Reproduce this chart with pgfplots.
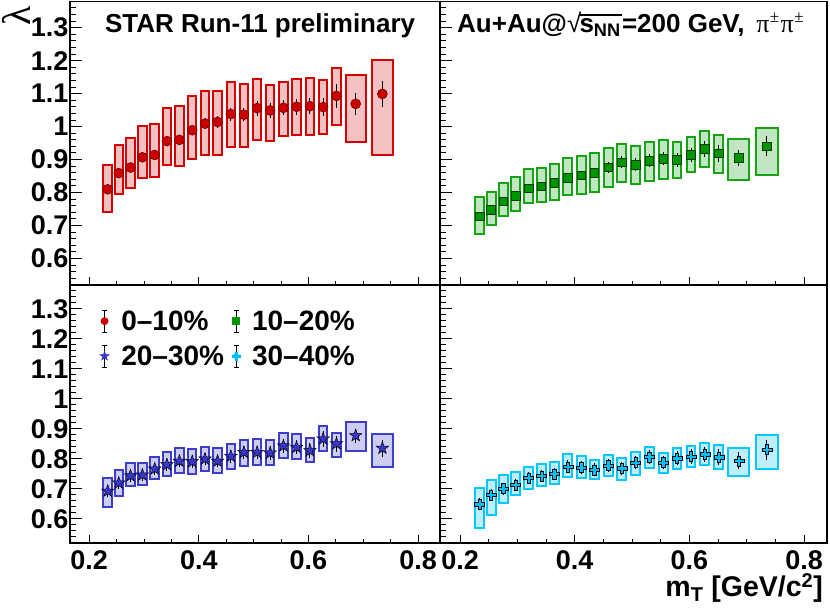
\documentclass[border=0pt]{standalone}
\usepackage{fontspec}
\setmainfont{Liberation Sans}
\newfontfamily\greekfont{Liberation Serif}
\usepackage{pgfplots}
\usepackage{pgfplotstable}
\pgfplotsset{compat=1.18}

\newsavebox\snnbox
\newcommand\sqrtsnn{\sbox\snnbox{s\textsubscript{NN}\kern0.05em}{\mdseries√}\kern-0.07em\rlap{\rule[0.66em]{\wd\snnbox}{0.055em}}\usebox\snnbox}
\newcommand\pipm{π\kern0.5bp\raisebox{0.42em}{\fontsize{17bp}{17bp}\selectfont ±}}

\definecolor{rline}{RGB}{215,0,0}
\definecolor{rfill}{RGB}{242,194,194}
\definecolor{rmark}{RGB}{204,0,0}
\definecolor{gline}{RGB}{20,165,20}
\definecolor{gfill}{RGB}{194,230,194}
\definecolor{gmark}{RGB}{0,150,0}
\definecolor{bline}{RGB}{60,60,205}
\definecolor{bfill}{RGB}{205,205,240}
\definecolor{bmark}{RGB}{55,55,205}
\definecolor{cline}{RGB}{0,200,255}
\definecolor{cfill}{RGB}{190,238,252}
\definecolor{cmark}{RGB}{0,190,250}

\pgfdeclareplotmark{fstar}{%
  \pgfpathmoveto{\pgfpointpolar{90}{\pgfplotmarksize}}%
  \pgfpathlineto{\pgfpointpolar{126}{0.4\pgfplotmarksize}}%
  \pgfpathlineto{\pgfpointpolar{162}{\pgfplotmarksize}}%
  \pgfpathlineto{\pgfpointpolar{198}{0.4\pgfplotmarksize}}%
  \pgfpathlineto{\pgfpointpolar{234}{\pgfplotmarksize}}%
  \pgfpathlineto{\pgfpointpolar{270}{0.4\pgfplotmarksize}}%
  \pgfpathlineto{\pgfpointpolar{306}{\pgfplotmarksize}}%
  \pgfpathlineto{\pgfpointpolar{342}{0.4\pgfplotmarksize}}%
  \pgfpathlineto{\pgfpointpolar{18}{\pgfplotmarksize}}%
  \pgfpathlineto{\pgfpointpolar{54}{0.4\pgfplotmarksize}}%
  \pgfpathclose
  \pgfusepathqfillstroke
}
\pgfdeclareplotmark{fcross}{%
  \pgfpathmoveto{\pgfpoint{-0.33\pgfplotmarksize}{\pgfplotmarksize}}%
  \pgfpathlineto{\pgfpoint{0.33\pgfplotmarksize}{\pgfplotmarksize}}%
  \pgfpathlineto{\pgfpoint{0.33\pgfplotmarksize}{0.33\pgfplotmarksize}}%
  \pgfpathlineto{\pgfpoint{\pgfplotmarksize}{0.33\pgfplotmarksize}}%
  \pgfpathlineto{\pgfpoint{\pgfplotmarksize}{-0.33\pgfplotmarksize}}%
  \pgfpathlineto{\pgfpoint{0.33\pgfplotmarksize}{-0.33\pgfplotmarksize}}%
  \pgfpathlineto{\pgfpoint{0.33\pgfplotmarksize}{-\pgfplotmarksize}}%
  \pgfpathlineto{\pgfpoint{-0.33\pgfplotmarksize}{-\pgfplotmarksize}}%
  \pgfpathlineto{\pgfpoint{-0.33\pgfplotmarksize}{-0.33\pgfplotmarksize}}%
  \pgfpathlineto{\pgfpoint{-\pgfplotmarksize}{-0.33\pgfplotmarksize}}%
  \pgfpathlineto{\pgfpoint{-\pgfplotmarksize}{0.33\pgfplotmarksize}}%
  \pgfpathlineto{\pgfpoint{-0.33\pgfplotmarksize}{0.33\pgfplotmarksize}}%
  \pgfpathclose
  \pgfusepathqfillstroke
}

% columns: x, y, stat error, syst low, syst high, box half width
\pgfplotstableread{
x y ey yl yh hw
0.2338 0.810 0.006 0.742 0.884 0.0078
0.2540 0.859 0.006 0.795 0.945 0.0078
0.2754 0.876 0.006 0.815 0.966 0.0078
0.2970 0.907 0.007 0.844 1.001 0.0078
0.3196 0.914 0.007 0.848 1.008 0.0078
0.3419 0.956 0.007 0.884 1.057 0.0078
0.3645 0.960 0.008 0.882 1.063 0.0078
0.3879 0.989 0.008 0.901 1.092 0.0078
0.4113 1.009 0.009 0.913 1.108 0.0078
0.4342 1.014 0.010 0.915 1.108 0.0078
0.4585 1.038 0.012 0.939 1.134 0.0078
0.4823 1.036 0.012 0.937 1.130 0.0078
0.5063 1.056 0.015 0.958 1.145 0.0078
0.5301 1.049 0.015 0.957 1.127 0.0078
0.5544 1.057 0.015 0.971 1.135 0.0078
0.5784 1.060 0.016 0.975 1.143 0.0078
0.6028 1.062 0.017 0.976 1.147 0.0078
0.6268 1.059 0.019 0.978 1.142 0.0078
0.6512 1.093 0.030 1.004 1.177 0.0078
0.6862 1.069 0.025 0.954 1.155 0.0185
0.7349 1.099 0.032 0.915 1.202 0.0192
}\redtab
\pgfplotstableread{
x y ey yl yh hw
0.2338 0.728 0.005 0.675 0.786 0.0078
0.2540 0.748 0.005 0.702 0.801 0.0078
0.2754 0.774 0.005 0.728 0.828 0.0078
0.2970 0.790 0.005 0.745 0.846 0.0078
0.3196 0.813 0.005 0.767 0.872 0.0078
0.3419 0.819 0.005 0.770 0.876 0.0078
0.3645 0.829 0.006 0.778 0.887 0.0078
0.3879 0.845 0.006 0.792 0.904 0.0078
0.4113 0.852 0.007 0.797 0.911 0.0078
0.4342 0.860 0.007 0.801 0.920 0.0078
0.4585 0.877 0.009 0.816 0.935 0.0078
0.4823 0.892 0.010 0.831 0.948 0.0078
0.5063 0.885 0.012 0.826 0.941 0.0078
0.5301 0.897 0.012 0.836 0.954 0.0078
0.5544 0.902 0.012 0.841 0.960 0.0078
0.5784 0.899 0.014 0.843 0.954 0.0078
0.6028 0.914 0.015 0.862 0.969 0.0078
0.6268 0.932 0.018 0.877 0.988 0.0078
0.6512 0.919 0.018 0.859 0.975 0.0078
0.6862 0.905 0.016 0.839 0.961 0.0185
0.7349 0.941 0.023 0.854 0.997 0.0192
}\greentab
\pgfplotstableread{
x y ey yl yh hw
0.2338 0.693 0.012 0.640 0.738 0.0078
0.2540 0.720 0.012 0.677 0.762 0.0078
0.2754 0.744 0.012 0.709 0.787 0.0078
0.2970 0.747 0.012 0.712 0.788 0.0078
0.3196 0.767 0.012 0.732 0.808 0.0078
0.3419 0.781 0.012 0.742 0.822 0.0078
0.3645 0.793 0.013 0.754 0.837 0.0078
0.3879 0.791 0.013 0.751 0.832 0.0078
0.4113 0.800 0.013 0.760 0.841 0.0078
0.4342 0.793 0.013 0.754 0.836 0.0078
0.4585 0.809 0.013 0.768 0.851 0.0078
0.4823 0.822 0.014 0.778 0.864 0.0078
0.5063 0.822 0.014 0.780 0.866 0.0078
0.5301 0.820 0.014 0.781 0.864 0.0078
0.5544 0.844 0.015 0.803 0.887 0.0078
0.5784 0.839 0.015 0.801 0.882 0.0078
0.6028 0.828 0.016 0.790 0.869 0.0078
0.6268 0.867 0.018 0.828 0.910 0.0078
0.6512 0.851 0.018 0.807 0.887 0.0078
0.6862 0.878 0.015 0.826 0.922 0.0185
0.7349 0.836 0.020 0.774 0.883 0.0192
}\bluetab
\pgfplotstableread{
x y ey yl yh hw
0.2338 0.649 0.012 0.570 0.703 0.0078
0.2540 0.680 0.012 0.613 0.731 0.0078
0.2754 0.701 0.012 0.654 0.747 0.0078
0.2970 0.714 0.012 0.679 0.757 0.0078
0.3196 0.737 0.012 0.700 0.774 0.0078
0.3419 0.744 0.012 0.711 0.782 0.0078
0.3645 0.750 0.012 0.716 0.790 0.0078
0.3879 0.774 0.013 0.739 0.818 0.0078
0.4113 0.771 0.013 0.738 0.809 0.0078
0.4342 0.764 0.013 0.733 0.798 0.0078
0.4585 0.778 0.013 0.744 0.813 0.0078
0.4823 0.769 0.014 0.730 0.804 0.0078
0.5063 0.788 0.014 0.747 0.824 0.0078
0.5301 0.807 0.014 0.771 0.841 0.0078
0.5544 0.788 0.014 0.752 0.821 0.0078
0.5784 0.802 0.015 0.766 0.836 0.0078
0.6028 0.808 0.016 0.773 0.843 0.0078
0.6268 0.816 0.017 0.781 0.853 0.0078
0.6512 0.806 0.018 0.767 0.848 0.0078
0.6862 0.794 0.020 0.743 0.838 0.0185
0.7349 0.831 0.025 0.767 0.881 0.0192
}\cyantab

\newcommand\sysboxes[3]{%
  \pgfplotstablegetrowsof{#1}%
  \pgfmathtruncatemacro\nrows{\pgfplotsretval-1}%
  \pgfplotsforeachungrouped \i in {0,...,\nrows}{%
    \pgfplotstablegetelem{\i}{x}\of{#1}\let\bx\pgfplotsretval
    \pgfplotstablegetelem{\i}{hw}\of{#1}\let\bw\pgfplotsretval
    \pgfplotstablegetelem{\i}{yl}\of{#1}\let\byl\pgfplotsretval
    \pgfplotstablegetelem{\i}{yh}\of{#1}\let\byh\pgfplotsretval
    \pgfmathsetmacro\bxl{\bx-\bw}%
    \pgfmathsetmacro\bxh{\bx+\bw}%
    \edef\tmp{\noexpand\addplot[draw=#2,fill=#3,line width=2bp,line join=miter,forget plot] coordinates {(\bxl,\byl) (\bxh,\byl) (\bxh,\byh) (\bxl,\byh)} -- cycle;}%
    \tmp
  }%
}

\pgfplotsset{
  panel/.style={
    scale only axis,
    xmin=0.165, xmax=0.84, ymin=0.52, ymax=1.38,
    xtick={0.2,0.4,0.6,0.8},
    ytick={0.6,0.7,0.8,0.9,1,1.1,1.2,1.3},
    minor xtick={0.2,0.25,...,0.81},
    minor ytick={0.52,0.54,...,1.381},
    tick pos=left, tick align=inside,
    xtick style={/pgfplots/major tick length=7.5bp,/pgfplots/minor tick length=3.8bp},
    ytick style={/pgfplots/major tick length=11.5bp,/pgfplots/minor tick length=6bp},
    every tick/.append style={black,line width=1bp},
    axis line style={line width=1.2bp},
    /pgf/number format/assume math mode=true,
    ticklabel style={font=\bfseries\fontsize{27bp}{27bp}\selectfont},
    yticklabel style={anchor=east,inner sep=0pt,xshift=-1.5bp},
    xticklabel style={anchor=north,inner sep=0pt,yshift=-7.5bp},
    error bars/y dir=both, error bars/y explicit,
    error bars/error bar style={black,line width=1bp},
    error bars/error mark options={black,line width=1bp,mark size=2.5bp},
  },
  leg/.style={
    legend image code/.code={
      \draw[black,line width=0.9bp,solid] (0bp,-11bp)--(0bp,11bp) (-2.5bp,-11bp)--(2.5bp,-11bp) (-2.5bp,11bp)--(2.5bp,11bp);
      \draw[only marks] plot coordinates {(0bp,0bp)};
    }
  }
}

\begin{document}
\begin{tikzpicture}
% top left
\begin{axis}[panel, at={(70bp,324bp)}, anchor=south west, width=370bp, height=283.8bp, xticklabels={}]
\sysboxes{\redtab}{rline}{rfill}
\addplot[only marks, mark=*, mark size=5bp, mark options={fill=rmark,draw=black!60!rmark,line width=0.5bp}] table[x=x,y=y,y error=ey] {\redtab};
\end{axis}
% top right
\begin{axis}[panel, at={(440bp,324bp)}, anchor=south west, width=387bp, height=283.8bp, xticklabels={}, yticklabels={}]
\sysboxes{\greentab}{gline}{gfill}
\addplot[only marks, mark=square*, mark size=4.3bp, mark options={fill=gmark,draw=black!60!gmark,line width=0.5bp}] table[x=x,y=y,y error=ey] {\greentab};
\end{axis}
% bottom left
\begin{axis}[panel, leg, at={(70bp,324bp)}, anchor=north west, width=370bp, height=258bp,
  legend columns=2, legend cell align=left,
  legend style={draw=none, fill=none, at={(rel axis cs:0.08,0.905)}, anchor=north west,
    font=\bfseries\fontsize{28bp}{28bp}\selectfont, inner sep=0pt, row sep=12bp,
    nodes={inner sep=0pt},
    /tikz/every odd column/.append style={column sep=12bp},
    /tikz/every even column/.append style={column sep=8bp}}]
\sysboxes{\bluetab}{bline}{bfill}
\addplot[only marks, mark=fstar, mark size=6.5bp, mark options={fill=bmark,draw=black,line width=0.5bp}, forget plot] table[x=x,y=y,y error=ey] {\bluetab};
\addlegendimage{only marks, mark=*, mark size=3.7bp, mark options={fill=rmark,draw=rmark}}
\addlegendentry{0--10\%}
\addlegendimage{only marks, mark=square*, mark size=3.5bp, mark options={fill=gmark,draw=gmark}}
\addlegendentry{10--20\%}
\addlegendimage{only marks, mark=fstar, mark size=5bp, mark options={fill=bmark,draw=bmark}}
\addlegendentry{20--30\%}
\addlegendimage{only marks, mark=fcross, mark size=4bp, mark options={fill=cmark,draw=cmark}}
\addlegendentry{30--40\%}
\end{axis}
% bottom right
\begin{axis}[panel, at={(440bp,324bp)}, anchor=north west, width=387bp, height=258bp, yticklabels={}]
\sysboxes{\cyantab}{cline}{cfill}
\addplot[only marks, mark=fcross, mark size=5bp, mark options={fill=cmark,draw=black,line width=0.5bp}] table[x=x,y=y,y error=ey] {\cyantab};
\end{axis}
% texts
\node[anchor=base west, font=\bfseries\fontsize{26bp}{26bp}\selectfont] at (101.5bp,576bp) {STAR Run-11 preliminary};
\node[anchor=base west, font=\bfseries\fontsize{26bp}{26bp}\selectfont, inner sep=0pt] at (457bp,576bp) {Au+Au@\sqrtsnn=200 GeV,\ \,{\greekfont\mdseries\pipm\kern1.5bp\pipm}};
\node[rotate=90, font=\greekfont\fontsize{40bp}{40bp}\selectfont, inner sep=0pt] at (16bp,593bp) {λ};
\node[anchor=base east, font=\bfseries\fontsize{28.5bp}{28.5bp}\selectfont, inner sep=0pt] at (823bp,12.3bp) {m\textsubscript{T} [GeV/c\textsuperscript{2}]};
\pgfresetboundingbox
\useasboundingbox (0,0) rectangle (830bp,609bp);
\end{tikzpicture}
\end{document}
